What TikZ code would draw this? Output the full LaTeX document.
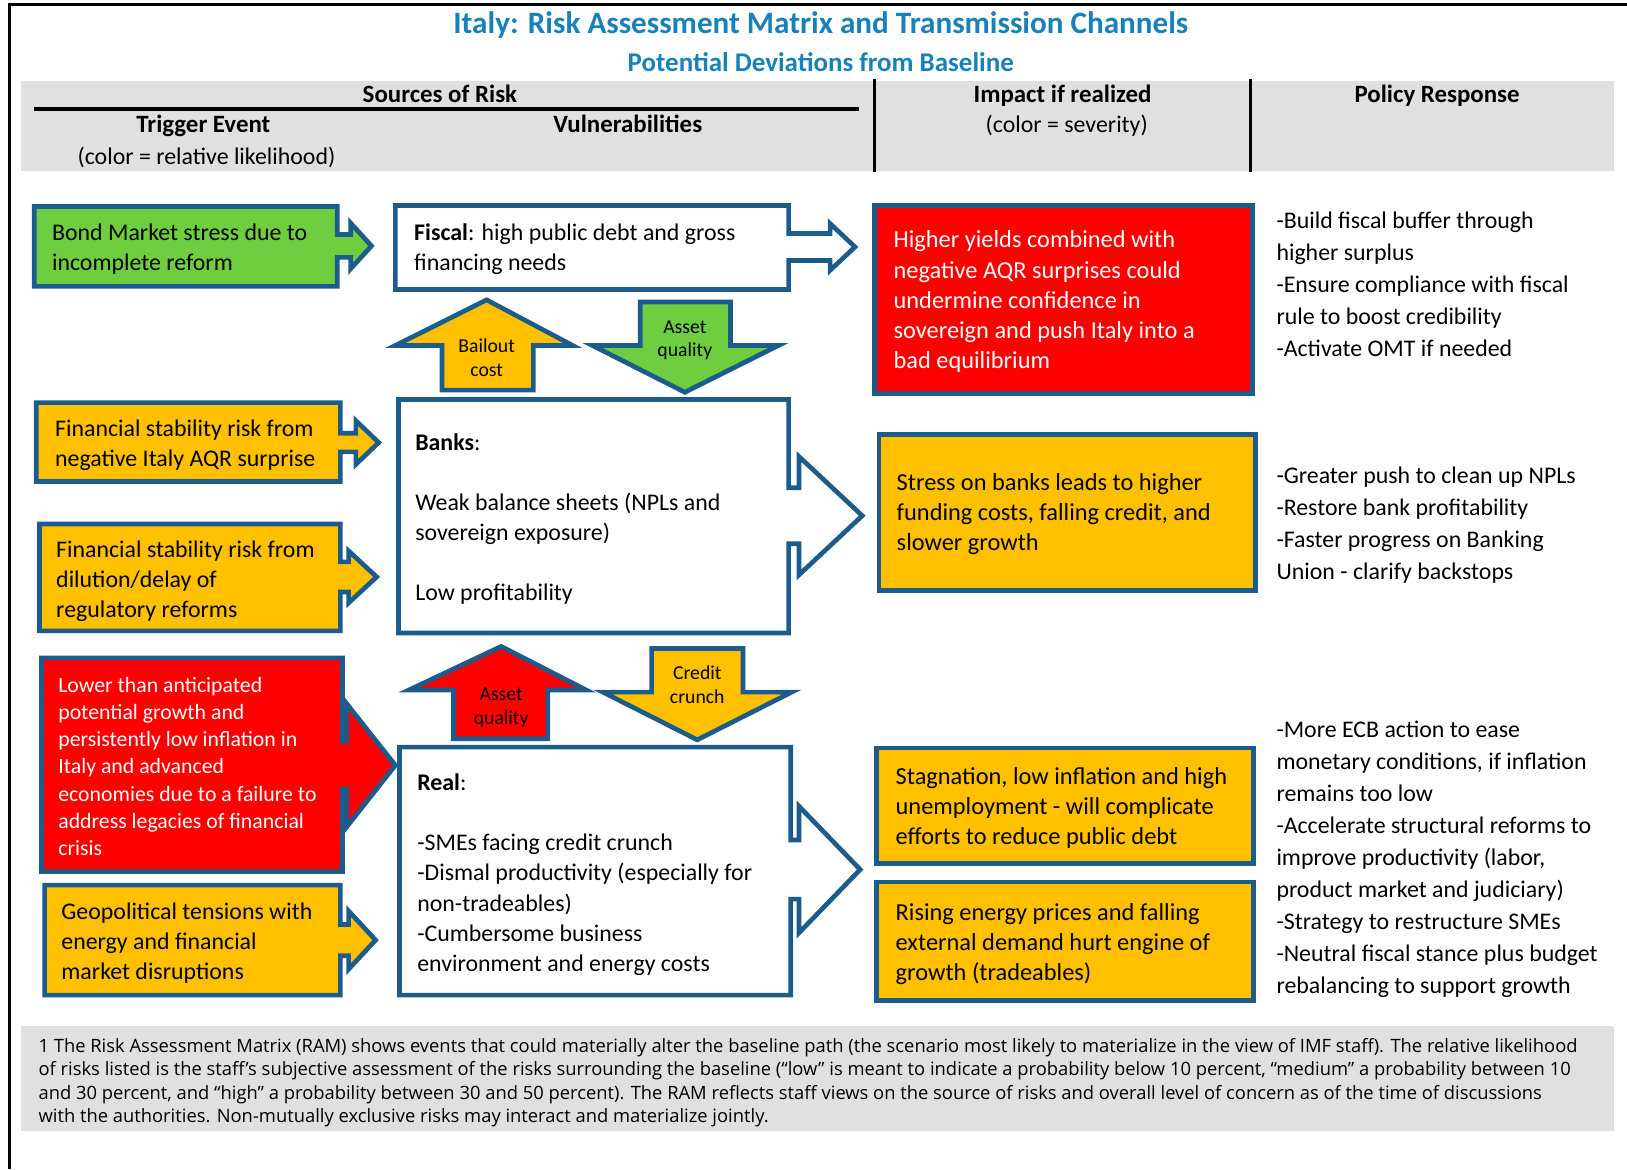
\documentclass[tikz,border=0pt]{standalone}
\usepackage{fontspec}
\setmainfont{Carlito}
\newfontfamily\footfont{Open Sans}
\usetikzlibrary{calc}
\definecolor{bord}{RGB}{28,92,140}
\definecolor{gfill}{RGB}{110,206,64}
\definecolor{ofill}{RGB}{255,192,0}
\definecolor{rfill}{RGB}{255,0,0}
\definecolor{ttl}{RGB}{23,130,186}
\definecolor{hgrey}{RGB}{224,224,224}
\newcommand{\ml}[1]{\begin{tabular}[t]{@{}l@{}}#1\end{tabular}}
\newcommand{\mc}[1]{\begin{tabular}[t]{@{}c@{}}#1\end{tabular}}
% name, fill, yc, stem half, head half, head base x, tip x
\newcommand{\rightbox}[7]{%
  \pgfmathsetmacro\ya{#3-#4}\pgfmathsetmacro\yb{#3+#4}%
  \pgfmathsetmacro\yc{#3-#5}\pgfmathsetmacro\yd{#3+#5}%
  \draw[shapeline,fill=#2] (#1.north west) -- (#1.north east) -- (#1.east |- 0,\ya) -- (#6,\ya) -- (#6,\yc) -- (#7,#3) -- (#6,\yd) -- (#6,\yb) -- (#1.east |- 0,\yb) -- (#1.south east) -- (#1.south west) -- cycle;}
\begin{document}
\begin{tikzpicture}[x=1pt,y=-1pt,
  shapeline/.style={draw=bord, line width=4.5pt, line join=miter},
  geom/.style={inner sep=0pt, outer sep=0pt, anchor=north west},
  txt/.style={inner sep=0pt, anchor=base west, font=\fontsize{23}{29}\selectfont},
  itxt/.style={inner sep=0pt, anchor=base west, font=\fontsize{23.5}{29}\selectfont},
  ptxt/.style={inner sep=0pt, anchor=base west, font=\fontsize{23}{30.8}\selectfont},
  lbl/.style={inner sep=0pt, anchor=base, font=\fontsize{19}{23}\selectfont},
  hdr/.style={inner sep=0pt, anchor=base, font=\fontsize{24}{29}\selectfont\bfseries},
  hsub/.style={inner sep=0pt, anchor=base, font=\fontsize{23}{29}\selectfont}]
\useasboundingbox (0,0) rectangle (1568,1127);
% frame
\draw[line width=3pt] (8,4.5) -- (1568,4.5);
\draw[line width=2.5pt] (9,4.5) -- (9,1127);
% title
\node[inner sep=0pt, anchor=base, text=ttl, font=\fontsize{30}{36}\selectfont\bfseries] (title) at (791,32) {Italy: Risk Assessment Matrix and Transmission Channels};
\node[inner sep=0pt, anchor=base, text=ttl, font=\fontsize{26}{31}\selectfont\bfseries] (subtitle) at (791,69) {Potential Deviations from Baseline};
% header band
\fill[hgrey] (20,78) rectangle (1555,165);
\draw[line width=2.5pt] (843,76) -- (843,166);
\draw[line width=2.5pt] (1205,76) -- (1205,166);
\draw[line width=3pt] (33,105) -- (828,105);
\node[hdr] (hsrc) at (424,99) {Sources of Risk};
\node[hdr] (htrig) at (196,128) {Trigger Event};
\node[hdr] (hvul) at (605,128) {Vulnerabilities};
\node[hsub] (hlik) at (199,159) {(color = relative likelihood)};
\node[hdr] (himp) at (1024,99) {Impact if realized};
\node[hsub] (hsev) at (1028,128) {(color = severity)};
\node[hdr] (hpol) at (1385,99) {Policy Response};
% footnote band
\fill[hgrey] (20,989) rectangle (1555,1090);
\node[inner sep=0pt, anchor=base west, font=\footfont\fontsize{17.7}{22.7}\selectfont] (foot) at (37,1014) {\ml{1 The Risk Assessment Matrix (RAM) shows events that could materially alter the baseline path (the scenario most likely to materialize in the view of IMF staff). The relative likelihood\\
of risks listed is the staff’s subjective assessment of the risks surrounding the baseline (“low” is meant to indicate a probability below 10 percent, “medium” a probability between 10\\
and 30 percent, and “high” a probability between 30 and 50 percent). The RAM reflects staff views on the source of risks and overall level of concern as of the time of discussions\\
with the authorities. Non-mutually exclusive risks may interact and materialize jointly.}};
% geometry nodes
\node[geom, minimum width=292pt, minimum height=77pt] (t1) at (33,199) {};
\node[geom, minimum width=293pt, minimum height=76pt] (t2) at (35,388) {};
\node[geom, minimum width=290pt, minimum height=103pt] (t3) at (38,505) {};
\node[geom, minimum width=290pt, minimum height=206pt] (t4) at (40,634) {};
\node[geom, minimum width=285pt, minimum height=106pt] (t5) at (43,853) {};
\node[geom, minimum width=379pt, minimum height=81pt] (fiscal) at (381,198) {};
\node[geom, minimum width=376pt, minimum height=225pt] (banks) at (384,385) {};
\node[geom, minimum width=377pt, minimum height=239pt] (real) at (385,720) {};
% trigger and vulnerability shapes
\rightbox{t1}{gfill}{237}{11}{22}{338}{358}
\rightbox{t2}{ofill}{426.5}{9}{21}{343}{365}
\rightbox{t3}{ofill}{556}{14.5}{25}{336}{363}
\rightbox{t4}{rfill}{737.5}{23}{59.5}{334}{381}
\rightbox{t5}{ofill}{906}{15}{28}{336}{362}
\rightbox{fiscal}{white}{238}{13}{22.5}{800}{824}
\rightbox{banks}{white}{497}{27}{57}{770}{831}
\rightbox{real}{white}{838}{28.5}{61}{770}{829}
% impact boxes
\node[geom, shapeline, fill=rfill, minimum width=364pt, minimum height=181pt] (i1) at (843,198) {};
\node[geom, shapeline, fill=ofill, minimum width=363pt, minimum height=150pt] (i2) at (847,419) {};
\node[geom, shapeline, fill=ofill, minimum width=363pt, minimum height=111pt] (i3) at (845,721) {};
\node[geom, shapeline, fill=ofill, minimum width=363pt, minimum height=114pt] (i4) at (845,850) {};
% transmission arrows
\draw[shapeline, fill=ofill] (469,289) -- (552,333) -- (514,333) -- (514,376) -- (426,376) -- (426,333) -- (381,333) -- cycle;
\draw[shapeline, fill=gfill] (617,291) -- (704,291) -- (704,333) -- (750,333) -- (660,378) -- (571,333) -- (617,333) -- cycle;
\draw[shapeline, fill=rfill] (483,623) -- (565,665) -- (528,665) -- (528,712) -- (437,712) -- (437,665) -- (394,665) -- cycle;
\draw[shapeline, fill=ofill] (628,625) -- (716,625) -- (716,667) -- (763,667) -- (672,713) -- (581,667) -- (628,667) -- cycle;
\node[lbl] (lb1) at (469,340) {\mc{Bailout\\cost}};
\node[lbl] (lb2) at (660,321) {\mc{Asset\\quality}};
\node[lbl] (lb3) at (483,675) {\mc{Asset\\quality}};
\node[lbl] (lb4) at (672,655) {\mc{Credit\\crunch}};
% trigger texts
\node[txt] (t1txt) at (50,232) {\ml{Bond Market stress due to\\incomplete reform}};
\node[txt] (t2txt) at (53,421) {\ml{Financial stability risk from\\negative Italy AQR surprise}};
\node[txt] (t3txt) at (54,537) {\ml{Financial stability risk from\\dilution/delay of\\regulatory reforms}};
\node[txt, text=white, font=\fontsize{21}{26.3}\selectfont] (t4txt) at (56,667) {\ml{Lower than anticipated\\potential growth and\\persistently low inflation in\\Italy and advanced\\economies due to a failure to\\address legacies of financial\\crisis}};
\node[txt] (t5txt) at (59,886) {\ml{Geopolitical tensions with\\energy and financial\\market disruptions}};
% vulnerability texts
\node[txt] (ftxt) at (399,232) {\ml{\textbf{Fiscal}: high public debt and gross\\financing needs}};
\node[txt] (btxt) at (400,434) {\ml{\textbf{Banks}:\\[29pt]Weak balance sheets (NPLs and\\sovereign exposure)\\[29pt]Low profitability}};
\node[txt] (rtxt) at (402,762) {\ml{\textbf{Real}:\\[29pt]-SMEs facing credit crunch\\-Dismal productivity (especially for\\non-tradeables)\\-Cumbersome business\\environment and energy costs}};
% impact texts
\node[itxt, text=white] (i1txt) at (861,239) {\ml{Higher yields combined with\\negative AQR surprises could\\undermine confidence in\\sovereign and push Italy into a\\bad equilibrium}};
\node[itxt] (i2txt) at (864,473) {\ml{Stress on banks leads to higher\\funding costs, falling credit, and\\slower growth}};
\node[itxt] (i3txt) at (863,756) {\ml{Stagnation, low inflation and high\\unemployment - will complicate\\efforts to reduce public debt}};
\node[itxt] (i4txt) at (863,887) {\ml{Rising energy prices and falling\\external demand hurt engine of\\growth (tradeables)}};
% policy texts
\node[ptxt] (p1txt) at (1230,220) {\ml{-Build fiscal buffer through\\higher surplus\\-Ensure compliance with fiscal\\rule to boost credibility\\-Activate OMT if needed}};
\node[ptxt] (p2txt) at (1230,466) {\ml{-Greater push to clean up NPLs\\-Restore bank profitability\\-Faster progress on Banking\\Union - clarify backstops}};
\node[ptxt] (p3txt) at (1230,711) {\ml{-More ECB action to ease\\monetary conditions, if inflation\\remains too low\\-Accelerate structural reforms to\\improve productivity (labor,\\product market and judiciary)\\-Strategy to restructure SMEs\\-Neutral fiscal stance plus budget\\rebalancing to support growth}};
\end{tikzpicture}
\end{document}
